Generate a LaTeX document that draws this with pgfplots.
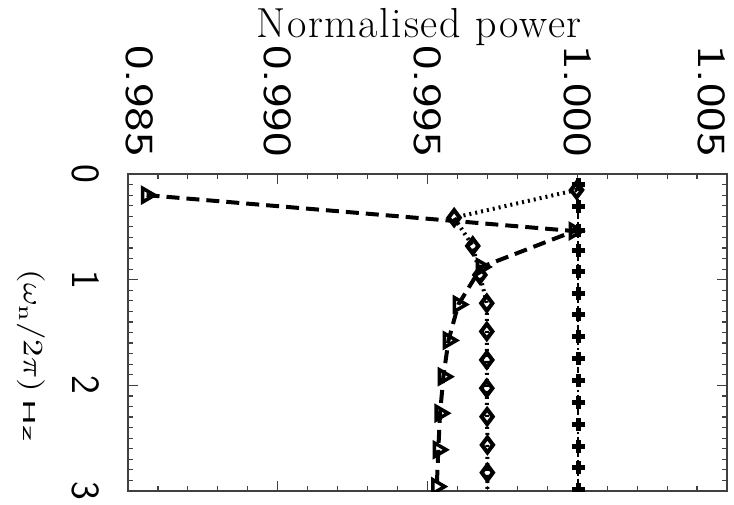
\RequirePackage{fix-cm}
\documentclass[border=0pt]{standalone}
\usepackage{fontspec}
\usepackage{graphicx}
\usepackage{pgfplots}
\pgfplotsset{compat=1.18}
\newfontfamily\titlefont[LetterSpace=4]{Latin Modern Roman}
\newfontfamily\tickfont{Latin Modern Sans}
\newcommand{\tl}[1]{\scalebox{1.3}[1]{#1}}
\newcommand{\yl}[1]{#1}
\begin{document}
\begin{tikzpicture}
\begin{axis}[
  scale only axis, width=599pt, height=317pt,
  xmin=0.985, xmax=1.005, ymin=0, ymax=3, y dir=reverse,
  axis line style={line width=1.2pt, black!75},
  every tick/.style={line width=1.2pt, black!75},
  major tick length=10pt, minor tick length=5pt,
  tick align=inside,
  tick pos=both,
  xtick={0.985,0.99,0.995,1,1.005},
  xticklabels={,\tl{0.990},\tl{0.995},\tl{1.000},},
  minor x tick num=4,
  ytick={0,1,2,3},
  yticklabels={\yl{0},\yl{1},\yl{2},\yl{3}},
  minor y tick num=9,
  xticklabel pos=upper,
  yticklabel pos=lower,
  ticklabel style={font=\tickfont\fontsize{40}{40}\selectfont, inner sep=0pt},
  xticklabel style={rotate=-90, anchor=east},
  yticklabel style={rotate=-90, anchor=north},
  xticklabel shift=17pt,
  yticklabel shift=28pt,
  clip mode=individual,
  clip marker paths=true,
]
% triangles, dashed
\addplot[black, line width=4pt, dash pattern=on 13pt off 7pt,
  mark=triangle, mark size=8pt, mark options={solid, rotate=-90, line width=3.5pt}]
  coordinates {
  (0.98562,0.20) (0.99990,0.54) (0.99680,0.88) (0.99603,1.235)
  (0.99570,1.575) (0.99553,1.918) (0.99542,2.264) (0.99536,2.61) (0.99531,2.958)
  };
% diamonds, dotted
\addplot[black, line width=4pt, dash pattern=on 2pt off 4pt,
  mark=diamond, mark size=7.5pt, mark options={solid, line width=4pt}]
  coordinates {
  (0.99998,0.151) (0.99589,0.413) (0.99651,0.681) (0.99675,0.955)
  (0.99698,1.223) (0.99698,1.49) (0.99698,1.76) (0.99698,2.027)
  (0.99699,2.296) (0.99700,2.564) (0.99700,2.826) (0.99700,3.09)
  };
% crosses, dash-dot
\addplot[black, line width=2.5pt, dash pattern=on 6pt off 3pt on 2pt off 3pt,
  mark=+, mark size=6.5pt, mark options={solid, line width=5pt}]
  coordinates {
  (1.00003,0.104) (1.00003,0.309) (1.00003,0.53) (1.00003,0.72)
  (1.00003,0.924) (1.00003,1.13) (1.00003,1.334) (1.00003,1.539)
  (1.00003,1.75) (1.00003,1.955) (1.00003,2.16) (1.00003,2.375)
  (1.00003,2.58) (1.00003,2.78) (1.00003,2.99)
  };
\node[rotate=-90, anchor=east, inner sep=0pt, font=\tickfont\fontsize{40}{40}\selectfont]
  at ([xshift=12pt,yshift=17pt]axis cs:0.985,0) {\tl{0.985}};
\node[rotate=-90, anchor=east, inner sep=0pt, font=\tickfont\fontsize{40}{40}\selectfont]
  at ([xshift=-15pt,yshift=17pt]axis cs:1.005,0) {\tl{1.005}};
\node[anchor=base, inner sep=0pt, font=\titlefont\fontsize{42}{42}\selectfont]
  at ([yshift=137pt]axis cs:0.99472,0) {Normalised power};
\node[rotate=-90, inner sep=0pt]
  at ([xshift=-97pt]axis cs:0.985,1.72)
  {\resizebox{122pt}{21pt}{$(\omega_{\mathrm{n}}/2\pi)$}\hspace{8pt}\resizebox{42pt}{12pt}{\tickfont Hz}};
\end{axis}
\pgfresetboundingbox
\path (-128pt,-13pt) rectangle (606pt,491pt);
\end{tikzpicture}
\end{document}
